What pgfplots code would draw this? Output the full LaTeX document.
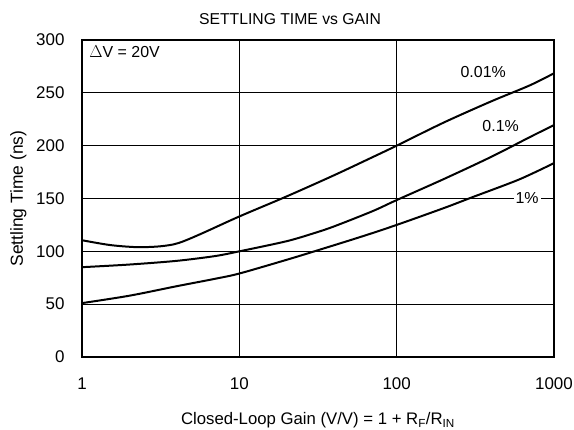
\documentclass[border=0pt]{standalone}
\usepackage{pgfplots}
\pgfplotsset{compat=1.18}
\usepackage{fontspec}
\setmainfont{Liberation Sans}
\begin{document}
\fontsize{16}{19}\selectfont
\begin{tikzpicture}
\begin{semilogxaxis}[
  name=ax,
  scale only axis,
  width=472bp, height=317bp,
  xmin=1, xmax=1000, ymin=0, ymax=300,
  xtick={1,10,100,1000},
  xticklabels={1,10,100,1000},
  ytick={0,50,100,150,200,250,300},
  minor xtick={},
  major tick length=0pt,
  minor tick length=0pt,
  grid=major,
  major grid style={black, line width=1.1pt},
  axis line style={black, line width=2pt},
  tick label style={font=\fontsize{17}{20}\selectfont},
  xticklabel style={yshift=-15bp},
  yticklabel style={xshift=-12bp},
  /pgf/number format/assume math mode=true,
  ylabel={\fontsize{17.5}{20}\selectfont Settling Time (ns)},
  xlabel={\fontsize{16.8}{20}\selectfont Closed-Loop Gain (V/V) = 1 + R$_\mathrm{F}$/R$_\mathrm{IN}$},
  xlabel style={yshift=-12bp},
  ylabel style={yshift=-1bp},
  clip=true,
  axis on top=false,
]
% 0.01%
\addplot[black, line width=2pt, smooth, tension=0.5] coordinates {
  (1,110.5) (1.5,106) (2.2,104) (3,104.5) (3.8,106.5) (4.5,110)
  (6,118) (10,133) (20,152) (40,172) (70,189) (100,200) (200,222)
  (400,242) (700,257) (1000,268.5)};
% 0.1%
\addplot[black, line width=2pt, smooth, tension=0.5] coordinates {
  (1,85) (2,87.5) (4,91) (7,95.5) (10,100) (20,109.6) (30,117.3) (40,123.6)
  (70,137.9) (100,148.5) (200,168.5) (400,189.5) (700,208) (1000,219.5)};
% 1%
\addplot[black, line width=2pt, smooth, tension=0.5] coordinates {
  (1,51) (2,58) (4,67) (7,74) (10,79) (20,92) (30,100) (60,114)
  (100,125) (200,141) (300,151) (600,168) (1000,183.5)};
\node[anchor=west, inner sep=0pt] at (axis cs:1.11,288.5) {$\Delta$V = 20V};
\node[inner sep=0pt] at (axis cs:355,270) {0.01\%};
\node[inner sep=0pt] at (axis cs:458,218.5) {0.1\%};
\node[fill=white, inner sep=2pt] at (axis cs:675,150) {1\%};
\end{semilogxaxis}
\node at ([shift={(208bp,21bp)}]ax.north west) {\fontsize{15.8}{19}\selectfont SETTLING TIME vs GAIN};
\pgfresetboundingbox
\path[use as bounding box] ([shift={(-82bp,-73bp)}]ax.south west) rectangle ([shift={(20bp,40bp)}]ax.north east);
\end{tikzpicture}
\end{document}
